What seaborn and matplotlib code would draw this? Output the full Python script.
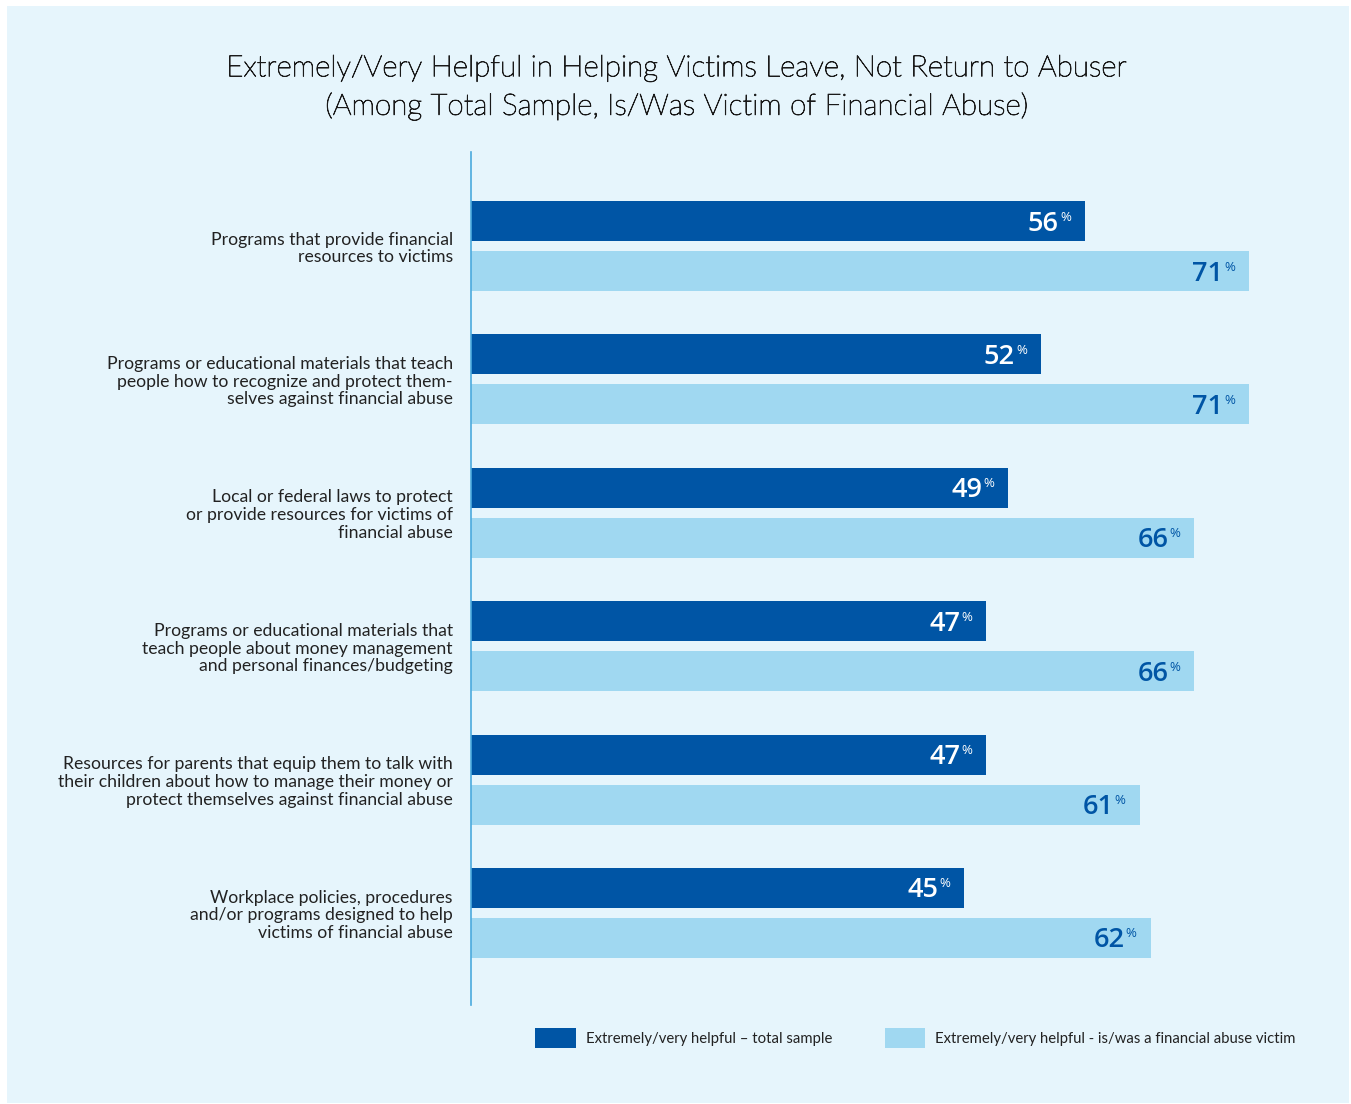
import matplotlib
matplotlib.use("Agg")
import matplotlib.pyplot as plt
import matplotlib.patches as mpatches
import matplotlib.patheffects as pe
import seaborn as sns
import pandas as pd

# ---- data ----
items = [
    "Programs that provide financial\nresources to victims",
    "Programs or educational materials that teach\npeople how to recognize and protect them-\nselves against financial abuse",
    "Local or federal laws to protect\nor provide resources for victims of\nfinancial abuse",
    "Programs or educational materials that\nteach people about money management\nand personal finances/budgeting",
    "Resources for parents that equip them to talk with\ntheir children about how to manage their money or\nprotect themselves against financial abuse",
    "Workplace policies, procedures\nand/or programs designed to help\nvictims of financial abuse",
]
total_sample = [56, 52, 49, 47, 47, 45]
abuse_victim = [71, 71, 66, 66, 61, 62]
series_names = [
    "Extremely/very helpful \u2013 total sample",
    "Extremely/very helpful - is/was a financial abuse victim",
]
title_lines = [
    "Extremely/Very Helpful in Helping Victims Leave, Not Return to Abuser",
    "(Among Total Sample, Is/Was Victim of Financial Abuse)",
]

DARK = "#0055A5"
LIGHT = "#A0D8F1"
PANEL = "#E6F5FC"
AXIS = "#4BAADD"
TEXT = "#222222"

df = pd.DataFrame({
    "item": items * 2,
    "value": total_sample + abuse_victim,
    "series": [series_names[0]] * len(items) + [series_names[1]] * len(items),
})

sns.set_theme(style="white")
plt.rcParams["font.family"] = ["Lato", "DejaVu Sans"]

W, H = 1351, 1104
fig = plt.figure(figsize=(W / 100, H / 100), dpi=100, facecolor="white")

# light panel behind everything
fig.patches.append(mpatches.Rectangle((7 / W, 1 - 1103 / H), (1349 - 7) / W, (1103 - 6) / H,
                                      transform=fig.transFigure, facecolor=PANEL,
                                      edgecolor="none", zorder=-10))

ax = fig.add_axes([471 / W, 1 - 1005 / H, (1349 - 471) / W, (1005 - 152) / H])
ax.set_facecolor("none")
ax.set_zorder(1)

sns.barplot(data=df, y="item", x="value", hue="series", orient="h",
            palette=[DARK, LIGHT], saturation=1, width=0.75, gap=0.2,
            order=items, hue_order=series_names, legend=False, ax=ax,
            linewidth=0, edgecolor="none")

ax.set_xlim(0, 80.1)
ax.set_ylim(len(items) - 1 + 0.69, -0.705)
ax.set_xlabel("")
ax.set_ylabel("")
ax.set_xticks([])
for s in ["top", "right", "bottom"]:
    ax.spines[s].set_visible(False)
ax.spines["left"].set_color(AXIS)
ax.spines["left"].set_linewidth(1.2)
ax.tick_params(axis="y", length=0, pad=13)
for lab in ax.get_yticklabels():
    lab.set_fontsize(12.7)
    lab.set_color(TEXT)
    lab.set_linespacing(1.13)
    lab.set_ha("right")

# value labels at the end of each bar
for container, color in zip(ax.containers, ["white", DARK]):
    for rect in container:
        val = rect.get_width()
        yc = rect.get_y() + rect.get_height() / 2
        ax.annotate(f"{val:.0f}", xy=(val, yc), xytext=(-26, -9.5),
                    textcoords="offset pixels", ha="right", va="baseline",
                    fontsize=19.5, fontweight="semibold", color=color,
                    family=["Open Sans", "DejaVu Sans"])
        ax.annotate("%", xy=(val, yc), xytext=(-14, 10.5),
                    textcoords="offset pixels", ha="right", va="top",
                    fontsize=9.5, color=color, family=["Open Sans", "DejaVu Sans"])

# title
for line, ypx in zip(title_lines, [68, 106]):
    fig.text(677 / W, 1 - ypx / H, line, ha="center", va="center",
             fontsize=21.3, fontweight="light", color="#1a1a1a",
             path_effects=[pe.withStroke(linewidth=0.6, foreground="#1a1a1a")])

# legend
handles = [mpatches.Patch(facecolor=DARK, edgecolor="none", label=series_names[0]),
           mpatches.Patch(facecolor=LIGHT, edgecolor="none", label=series_names[1])]
fig.legend(handles=handles, loc="center left", bbox_to_anchor=(522 / W, 1 - 1038 / H),
           ncol=2, frameon=False, fontsize=10.7, handlelength=2.7, handleheight=1.68,
           handletextpad=0.72, columnspacing=3.5, labelcolor=TEXT)

fig.savefig("out.png", dpi=100, facecolor="white")
